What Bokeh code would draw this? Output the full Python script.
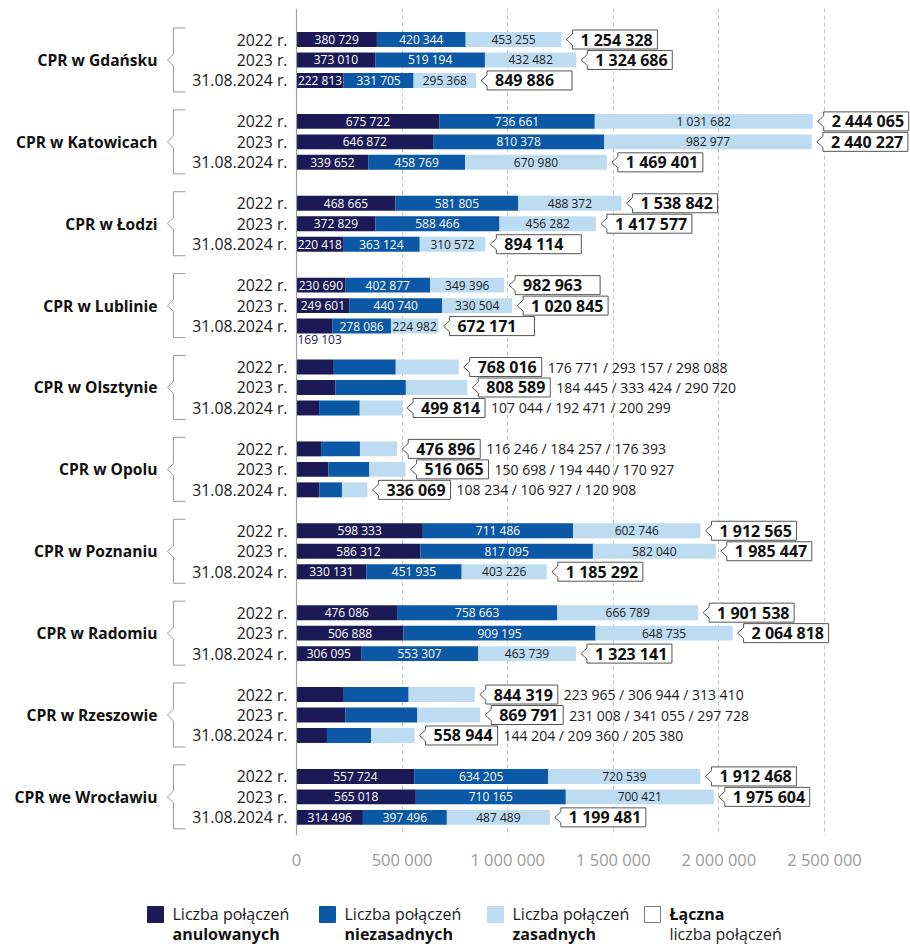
from bokeh.plotting import figure
from bokeh.layouts import column
from bokeh.models import Range1d, FixedTicker, Span
from bokeh.core.properties import value
from bokeh.embed import file_html
from bokeh.resources import INLINE

# ---------------- data ----------------
centers = ["CPR w Gdańsku", "CPR w Katowicach", "CPR w Łodzi", "CPR w Lublinie",
           "CPR w Olsztynie", "CPR w Opolu", "CPR w Poznaniu", "CPR w Radomiu",
           "CPR w Rzeszowie", "CPR we Wrocławiu"]
years = ["2022 r.", "2023 r.", "31.08.2024 r."]
anulowane = [
    [380729, 373010, 222813],
    [675722, 646872, 339652],
    [468665, 372829, 220418],
    [230690, 249601, 169103],
    [176771, 184445, 107044],
    [116246, 150698, 108234],
    [598333, 586312, 330131],
    [476086, 506888, 306095],
    [223965, 231008, 144204],
    [557724, 565018, 314496]]
niezasadne = [
    [420344, 519194, 331705],
    [736661, 810378, 458769],
    [581805, 588466, 363124],
    [402877, 440740, 278086],
    [293157, 333424, 192471],
    [184257, 194440, 106927],
    [711486, 817095, 451935],
    [758663, 909195, 553307],
    [306944, 341055, 209360],
    [634205, 710165, 397496]]
zasadne = [
    [453255, 432482, 295368],
    [1031682, 982977, 670980],
    [488372, 456282, 310572],
    [349396, 330504, 224982],
    [298088, 290720, 200299],
    [176393, 170927, 120908],
    [602746, 582040, 403226],
    [666789, 648735, 463739],
    [313410, 297728, 205380],
    [720539, 700421, 487489]]
razem = [
    [1254328, 1324686, 849886],
    [2444065, 2440227, 1469401],
    [1538842, 1417577, 894114],
    [982963, 1020845, 672171],
    [768016, 808589, 499814],
    [476896, 516065, 336069],
    [1912565, 1985447, 1185292],
    [1901538, 2064818, 1323141],
    [844319, 869791, 558944],
    [1912468, 1975604, 1199481]]
labels_inside = [True, True, True, True, False, False, True, True, False, True]
x_ticks = [0, 500000, 1000000, 1500000, 2000000, 2500000]
legend_line1 = ["Liczba połączeń", "Liczba połączeń", "Liczba połączeń", "Łączna"]
legend_line2 = ["anulowanych", "niezasadnych", "zasadnych", "liczba połączeń"]

# ---------------- style ----------------
C_ANUL = "#1c1a56"
C_NIEZ = "#0b58a6"
C_ZAS = "#bddcf2"
FONT = value("Open Sans")

def fmt(v):
    return f"{v:,}".replace(",", " ")

W = 910
H_MAIN = 873
FRAME_TOP = 8
FRAME_H = 827
PX = 500000 / 105.6            # data units per pixel (x)
X_ZERO = 296                   # canvas x of value 0
X0 = -X_ZERO * PX
X1 = (W - X_ZERO) * PX
ROW = 20.47                    # pixels per y unit
Y_TOP = -31 / ROW
Y_BOT = Y_TOP + FRAME_H / ROW
PY = 1 / ROW                   # y units per pixel

p = figure(width=W, height=H_MAIN, output_backend="svg", toolbar_location=None,
           x_range=Range1d(X0, X1), y_range=Range1d(Y_BOT, Y_TOP),
           min_border_left=0, min_border_right=0, min_border_top=FRAME_TOP,
           min_border_bottom=H_MAIN - FRAME_TOP - FRAME_H)
p.outline_line_color = None
p.yaxis.visible = False
p.ygrid.grid_line_color = None
p.xaxis.ticker = FixedTicker(ticks=x_ticks)
p.xaxis.major_label_overrides = {t: fmt(t) for t in x_ticks}
p.xaxis.axis_line_color = None
p.xaxis.major_tick_line_color = None
p.xaxis.minor_tick_line_color = None
p.xaxis.major_label_standoff = 6
p.xaxis.major_label_text_font = "Open Sans"
p.xaxis.major_label_text_font_size = "16.5px"
p.xaxis.major_label_text_color = "#9a9a9a"
p.xgrid.ticker = FixedTicker(ticks=x_ticks[1:])
p.xgrid.grid_line_color = "#c4c4c4"
p.xgrid.grid_line_dash = "4 3"
p.add_layout(Span(location=0, dimension="height", line_color="#a0a0a0", line_width=1.2))

ys, a_l, a_r, n_r, z_r = [], [], [], [], []
for g in range(len(centers)):
    for r in range(3):
        y = g * 4 + r
        a, n, z = anulowane[g][r], niezasadne[g][r], zasadne[g][r]
        ys.append(y); a_l.append(0); a_r.append(a); n_r.append(a + n); z_r.append(a + n + z)

BAR_H = 0.73
p.hbar(y=ys, left=a_l, right=a_r, height=BAR_H, fill_color=C_ANUL, line_color=None)
p.hbar(y=ys, left=a_r, right=n_r, height=BAR_H, fill_color=C_NIEZ, line_color=None)
p.hbar(y=ys, left=n_r, right=z_r, height=BAR_H, fill_color=C_ZAS, line_color=None)

# inner labels
wx, wy, wt = [], [], []
dx, dy, dt = [], [], []
bx, by, bt = [], [], []
for i, y in enumerate(ys):
    g, r = divmod(y, 4)
    if not labels_inside[g]:
        continue
    segs = [(a_l[i], a_r[i], anulowane[g][r], "w"),
            (a_r[i], n_r[i], niezasadne[g][r], "w"),
            (n_r[i], z_r[i], zasadne[g][r], "d")]
    for k, (lft, rgt, v, c) in enumerate(segs):
        if (rgt - lft) / PX < 40:
            bx.append(lft); by.append(y + 0.68); bt.append(fmt(v))
        elif c == "w":
            wx.append((lft + rgt) / 2); wy.append(y); wt.append(fmt(v))
        else:
            dx.append((lft + rgt) / 2); dy.append(y); dt.append(fmt(v))

common = dict(text_font=FONT, text_font_size="12px", text_baseline="middle")
p.text(x=wx, y=wy, text=wt, text_align="center", text_color="white", **common)
p.text(x=dx, y=dy, text=dt, text_align="center", text_color="#1a1a1a", **common)
p.text(x=bx, y=by, text=bt, text_align="left", x_offset=1, text_color=C_ANUL, **common)

# total callout boxes
pxs, pys = [], []
tx, ty, tt = [], [], []
ex, ey, et = [], [], []
for i, y in enumerate(ys):
    g, r = divmod(y, 4)
    end = z_r[i]
    left = end + 11 * PX
    tip = end + 5 * PX
    bw = 85 if labels_inside[g] else 72
    right = left + bw * PX
    top = y - 9.5 * PY
    bot = y + 9.5 * PY
    pxs.append([left, right, right, left, left, tip, left, left])
    pys.append([top, top, bot, bot, y + 5.5 * PY, y, y - 5.5 * PY, top])
    tx.append(left + 8 * PX); ty.append(y); tt.append(fmt(razem[g][r]))
    if not labels_inside[g]:
        ex.append(right + 6 * PX); ey.append(y)
        et.append(" / ".join(fmt(v) for v in (anulowane[g][r], niezasadne[g][r], zasadne[g][r])))

p.patches(pxs, pys, fill_color="white", line_color="#555555", line_width=1)
p.text(x=tx, y=ty, text=tt, text_align="left", text_baseline="middle", text_font=FONT,
       text_font_size="16px", text_font_style="bold", text_color="#111111")
p.text(x=ex, y=ey, text=et, text_align="left", text_baseline="middle", text_font=FONT,
       text_font_size="14px", text_color="#1a1a1a")

# year labels
p.text(x=[0] * len(ys), y=ys, text=[years[y % 4] for y in ys], x_offset=-9,
       text_align="right", text_baseline="middle", text_font=FONT,
       text_font_size="15.8px", text_color="#1a1a1a")

# group labels & brackets
gy = [g * 4 + 1 for g in range(len(centers))]
p.text(x=[0] * len(centers), y=gy, text=centers, x_offset=-139, text_align="right",
       text_baseline="middle", text_font=FONT, text_font_size="15.6px",
       text_font_style="bold", text_color="#111111")
brx, bry = [], []
for m in gy:
    xr, xv, xt = -111 * PX, -123 * PX, -129 * PX
    t, b = m - 32 * PY, m + 32 * PY
    brx.append([xr, xv, xv, xt, xv, xv, xr])
    bry.append([t, t, m - 6 * PY, m, m + 6 * PY, b, b])
p.multi_line(brx, bry, line_color="#9a9a9a", line_width=1)

# ---------------- legend ----------------
H_LEG = 71
lg = figure(width=W, height=H_LEG, output_backend="svg", toolbar_location=None,
            x_range=Range1d(0, W), y_range=Range1d(H_LEG, 0),
            min_border_left=0, min_border_right=0, min_border_top=0, min_border_bottom=0)
lg.outline_line_color = None
lg.axis.visible = False
lg.grid.visible = False
sq_left = [147, 319, 487, 644]
sq_fill = [C_ANUL, C_NIEZ, C_ZAS, "white"]
sq_line = [C_ANUL, C_NIEZ, C_ZAS, "#777777"]
lg.quad(left=sq_left, right=[s + 16 for s in sq_left], top=[33] * 4, bottom=[49] * 4,
        fill_color=sq_fill, line_color=sq_line, line_width=1)
txt_x = [s + 25 for s in sq_left]
lg.text(x=txt_x[:3], y=[40] * 3, text=legend_line1[:3], text_baseline="middle",
        text_font=FONT, text_font_size="16px", text_color="#1a1a1a")
lg.text(x=txt_x[:3], y=[60] * 3, text=legend_line2[:3], text_baseline="middle",
        text_font=FONT, text_font_size="16px", text_font_style="bold", text_color="#111111")
lg.text(x=[txt_x[3]], y=[40], text=[legend_line1[3]], text_baseline="middle",
        text_font=FONT, text_font_size="16px", text_font_style="bold", text_color="#111111")
lg.text(x=[txt_x[3]], y=[60], text=[legend_line2[3]], text_baseline="middle",
        text_font=FONT, text_font_size="16px", text_color="#1a1a1a")

layout = column(p, lg, spacing=0)
open("out.html", "w").write(file_html(layout, INLINE))
